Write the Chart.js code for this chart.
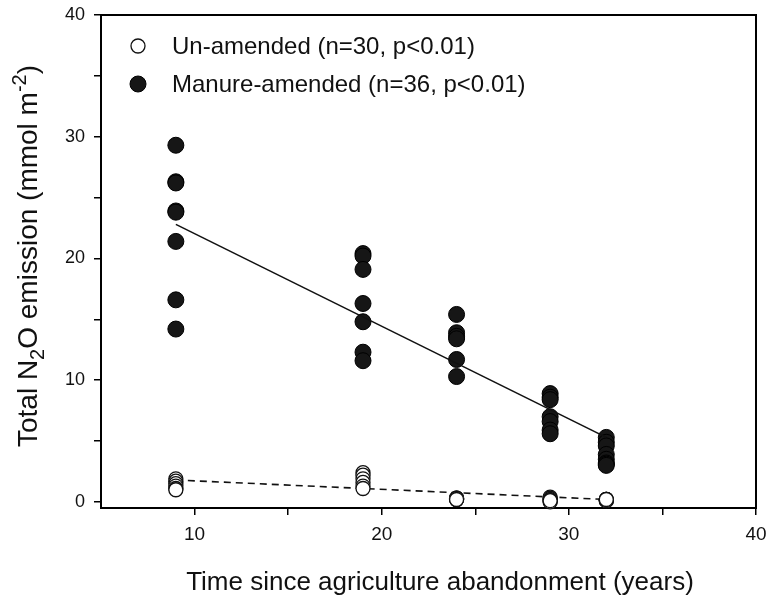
<!DOCTYPE html>
<html>
<head>
<meta charset="utf-8">
<title>N2O emission vs time since abandonment</title>
<script src="https://cdn.jsdelivr.net/npm/chart.js@4/dist/chart.umd.min.js"></script>
<style>
  html, body { margin: 0; padding: 0; background: #fff; overflow: hidden; }
  canvas { display: block; }
</style>
</head>
<body>
<canvas id="chart" width="771" height="596"></canvas>
<script>
// Data
const siteYears = [9, 19, 24, 29, 32];

// Un-amended plots (n=30), one list per site
const unamended = [
    [1.9, 1.7, 1.5, 1.3, 1.1, 1.0],
    [2.4, 2.2, 1.9, 1.6, 1.3, 1.1],
    [0.3, 0.3, 0.2, 0.2, 0.3, 0.2],
    [0.4, 0.3, 0.2, 0.1, 0.0, 0.1],
    [0.2, 0.2, 0.1, 0.2, 0.1, 0.2]
];

// Manure-amended plots (n=36)
const manure = [
    [29.3, 26.3, 26.2, 23.9, 23.8, 21.4, 16.6, 14.2],
    [20.4, 20.2, 19.1, 16.3, 14.8, 12.3, 11.6],
    [15.4, 13.9, 13.6, 13.4, 11.7, 10.3],
    [8.9, 8.6, 8.4, 7.0, 6.6, 5.9, 5.6],
    [5.3, 4.9, 4.6, 3.9, 3.5, 3.2, 3.1, 3.0]
];

// Regression lines, start and end
const fitYears = [9, 32];
const fitManure = [22.8, 5.3];
const fitUnamended = [1.8, 0.2];

const seriesLabels = ['Un-amended (n=30, p<0.01)', 'Manure-amended (n=36, p<0.01)'];
const xTicks = [10, 15, 20, 25, 30, 35, 40];
const yTicks = [0, 5, 10, 15, 20, 25, 30, 35, 40];
const xTitle = 'Time since agriculture abandonment (years)';
// y title pieces: normal / subscript / superscript
const yTitleParts = [
    { text: 'Total N', pos: 'normal' },
    { text: '2', pos: 'sub' },
    { text: 'O emission (mmol m', pos: 'normal' },
    { text: '-2', pos: 'sup' },
    { text: ')', pos: 'normal' }
];

const FONT = '"Liberation Sans", Arial, Helvetica, sans-serif';

function toPoints(groups) {
    return siteYears.flatMap((yr, i) => groups[i].map(v => ({ x: yr, y: v })));
}

function toLine(values) {
    return fitYears.map((yr, i) => ({ x: yr, y: values[i] }));
}

// frame round the plot area
const boxPlugin = {
    id: 'box',
    beforeDatasetsDraw(chart) {
        const { ctx, chartArea: a } = chart;
        ctx.save();
        ctx.strokeStyle = '#000';
        ctx.lineWidth = 2;
        ctx.strokeRect(a.left, a.top, a.right - a.left, a.bottom - a.top);
        ctx.restore();
    }
};

// legend inside the plot, titles with sub/superscripts
const annotatePlugin = {
    id: 'annotate',
    afterDraw(chart) {
        const ctx = chart.ctx;
        ctx.save();

        // legend
        const rows = [
            { y: 46, ds: chart.data.datasets[0] },
            { y: 84, ds: chart.data.datasets[1] }
        ];
        rows.forEach((row, i) => {
            ctx.beginPath();
            ctx.arc(138, row.y, row.ds.pointRadius, 0, Math.PI * 2);
            ctx.fillStyle = row.ds.backgroundColor;
            ctx.fill();
            ctx.lineWidth = row.ds.borderWidth;
            ctx.strokeStyle = row.ds.borderColor;
            ctx.stroke();
            ctx.fillStyle = '#111';
            ctx.font = '24px ' + FONT;
            ctx.textBaseline = 'middle';
            ctx.textAlign = 'left';
            ctx.fillText(seriesLabels[i], 172, row.y + 1);
        });

        // x title
        ctx.font = '26px ' + FONT;
        ctx.textAlign = 'center';
        ctx.textBaseline = 'alphabetic';
        ctx.fillStyle = '#111';
        ctx.fillText(xTitle, 440, 590);

        // y title, rotated
        const size = 28;
        const small = 20;
        const widths = yTitleParts.map(p => {
            ctx.font = (p.pos === 'normal' ? size : small) + 'px ' + FONT;
            return ctx.measureText(p.text).width;
        });
        const total = widths.reduce((s, w) => s + w, 0);
        ctx.translate(37, 256);
        ctx.rotate(-Math.PI / 2);
        ctx.textAlign = 'left';
        let x = -total / 2;
        yTitleParts.forEach((p, i) => {
            ctx.font = (p.pos === 'normal' ? size : small) + 'px ' + FONT;
            const dy = p.pos === 'sub' ? 7 : (p.pos === 'sup' ? -11 : 0);
            ctx.fillText(p.text, x, dy);
            x += widths[i];
        });
        ctx.restore();
    }
};

function setTicks(values) {
    return scale => { scale.ticks = values.map(v => ({ value: v })); };
}

const axisGrid = {
    drawOnChartArea: false,
    drawTicks: true,
    tickLength: 7,
    color: '#000',
    lineWidth: 1.5
};

new Chart(document.getElementById('chart'), {
    type: 'scatter',
    data: {
        datasets: [
            {
                label: seriesLabels[0],
                data: toPoints(unamended),
                pointRadius: 7,
                backgroundColor: '#fff',
                borderColor: '#111',
                borderWidth: 1.3,
                clip: false,
                order: 1
            },
            {
                label: seriesLabels[1],
                data: toPoints(manure),
                pointRadius: 8,
                backgroundColor: '#161616',
                borderColor: '#000',
                borderWidth: 1,
                clip: false,
                order: 2
            },
            {
                label: 'Manure fit',
                type: 'line',
                data: toLine(fitManure),
                borderColor: '#111',
                borderWidth: 1.6,
                pointRadius: 0,
                fill: false,
                order: 0
            },
            {
                label: 'Un-amended fit',
                type: 'line',
                data: toLine(fitUnamended),
                borderColor: '#111',
                borderWidth: 1.6,
                borderDash: [7, 5],
                pointRadius: 0,
                fill: false,
                order: 3
            }
        ]
    },
    options: {
        responsive: false,
        animation: false,
        devicePixelRatio: 1,
        layout: { padding: { top: 15, right: 15, left: 0, bottom: 0 } },
        plugins: {
            legend: { display: false },
            tooltip: { enabled: false }
        },
        scales: {
            x: {
                type: 'linear',
                min: 5,
                max: 40,
                afterBuildTicks: setTicks(xTicks),
                afterFit: scale => {
                    scale.height = 88;
                    scale.paddingLeft = 0;
                    scale.paddingRight = 0;
                },
                grid: axisGrid,
                border: { display: true, color: '#000', width: 2 },
                ticks: {
                    font: { size: 19, family: FONT },
                    color: '#111',
                    padding: 8,
                    maxRotation: 0,
                    autoSkip: false,
                    callback: v => (v % 10 === 0 ? v : '')
                }
            },
            y: {
                type: 'linear',
                min: -0.5,
                max: 40,
                afterBuildTicks: setTicks(yTicks),
                afterFit: scale => {
                    scale.width = 101;
                    scale.paddingTop = 0;
                    scale.paddingBottom = 0;
                },
                grid: axisGrid,
                border: { display: true, color: '#000', width: 2 },
                ticks: {
                    font: { size: 18, family: FONT },
                    color: '#111',
                    padding: 9,
                    autoSkip: false,
                    callback: v => (v % 10 === 0 ? v : '')
                }
            }
        }
    },
    plugins: [boxPlugin, annotatePlugin]
});
</script>
</body>
</html>
